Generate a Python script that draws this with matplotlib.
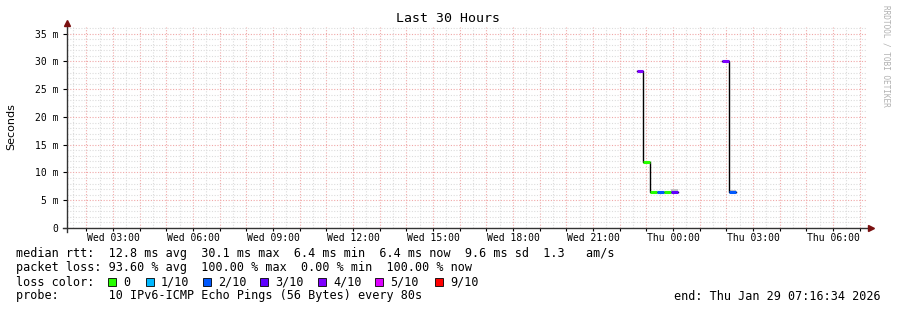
import matplotlib
matplotlib.use("Agg")
import numpy as np
import matplotlib.pyplot as plt
from matplotlib.patches import Rectangle
from matplotlib.ticker import MultipleLocator, FuncFormatter

W, H = 897, 310

# time axis in hours since Wed 00:00, window = last 30 hours
t_start = 1.276
t_end = 31.276
tick_hours = [3, 6, 9, 12, 15, 18, 21, 24, 27, 30]
tick_labels = ["Wed 03:00", "Wed 06:00", "Wed 09:00", "Wed 12:00", "Wed 15:00",
               "Wed 18:00", "Wed 21:00", "Thu 00:00", "Thu 03:00", "Thu 06:00"]

# median rtt steps (ms), grouped by contiguous data
seg_start = [22.65, 22.88, 23.14, 23.40, 23.66, 23.92, 25.84, 26.10]
seg_end = [22.88, 23.14, 23.40, 23.66, 23.92, 24.18, 26.10, 26.36]
median_ms = [28.2, 11.9, 6.4, 6.4, 6.4, 6.4, 30.0, 6.4]
loss_idx = [4, 0, 0, 2, 0, 3, 4, 2]
smoke_top = [28.3, 12.0, 6.45, 6.45, 6.45, 7.0, 30.1, 6.9]
group = [0, 0, 0, 0, 0, 0, 1, 1]

loss_labels = ["0", "1/10", "2/10", "3/10", "4/10", "5/10", "9/10"]
loss_colors = ["#26ff00", "#00b8ff", "#0059ff", "#5e00ff", "#7e00ff", "#dd00ff", "#ff0000"]
legend_box_x = [108, 146, 203, 260, 318, 375, 435]

stats_lines = [
    "median rtt:  12.8 ms avg  30.1 ms max  6.4 ms min  6.4 ms now  9.6 ms sd  1.3   am/s",
    "packet loss: 93.60 % avg  100.00 % max  0.00 % min  100.00 % now",
]
probe_line = "probe:       10 IPv6-ICMP Echo Pings (56 Bytes) every 80s"
end_line = "end: Thu Jan 29 07:16:34 2026"

MONO = "DejaVu Sans Mono"


def fx(x):
    return x / W


def fy(y):
    return 1 - y / H


fig = plt.figure(figsize=(W / 100, H / 100), dpi=100)
left, right, top, bottom = 67, 867, 27, 228
ax = fig.add_axes([fx(left), fy(bottom), (right - left) / W, (bottom - top) / H])
ax.set_xlim(t_start, t_end)
ax.set_ylim(0, 36.2)

# grid
ax.xaxis.set_major_locator(MultipleLocator(1))
ax.xaxis.set_minor_locator(MultipleLocator(0.5))
ax.yaxis.set_major_locator(MultipleLocator(5))
ax.yaxis.set_minor_locator(MultipleLocator(1))
ax.grid(which="minor", color="#dcdcdc", linestyle=(0, (1, 1.5)), linewidth=0.8)
ax.grid(which="major", color="#f0a8a8", linestyle=(0, (1, 1.5)), linewidth=0.8)
ax.set_axisbelow(True)


def xfmt(v, pos):
    for h, lab in zip(tick_hours, tick_labels):
        if abs(v - h) < 1e-6:
            return lab
    return ""


ax.xaxis.set_major_formatter(FuncFormatter(xfmt))
ax.yaxis.set_major_formatter(FuncFormatter(lambda v, p: "0" if v == 0 else f"{v:.0f} m"))
ax.tick_params(axis="x", which="major", length=2, pad=1.5, labelsize=7, colors="#000000")
ax.tick_params(axis="x", which="minor", length=0)
ax.tick_params(axis="y", which="major", length=3, pad=3, labelsize=7)
ax.tick_params(axis="y", which="minor", length=0)
for lab in ax.get_xticklabels() + ax.get_yticklabels():
    lab.set_fontfamily(MONO)

for s in ["top", "right", "left", "bottom"]:
    ax.spines[s].set_visible(False)

# smoke
for s0, s1, m, st in zip(seg_start, seg_end, median_ms, smoke_top):
    if st - m > 0.2:
        ax.add_patch(Rectangle((s0, m), s1 - s0, st - m, color="#c4c4c4", lw=0, zorder=2))

# black median step lines per group
for g in sorted(set(group)):
    idx = [i for i in range(len(group)) if group[i] == g]
    xs = [seg_start[i] for i in idx] + [seg_end[idx[-1]]]
    ys = [median_ms[i] for i in idx] + [median_ms[idx[-1]]]
    ax.step(xs, ys, where="post", color="#000000", lw=1.0, zorder=3)

# loss coloured median segments
for s0, s1, m, li in zip(seg_start, seg_end, median_ms, loss_idx):
    ax.hlines(m, s0, s1, color=loss_colors[li], lw=2.2, zorder=4)

# axis lines and arrows
fig.add_artist(plt.Line2D([fx(left), fx(left)], [fy(232), fy(24)], color="#333333", lw=1))
fig.add_artist(plt.Line2D([fx(63), fx(870)], [fy(bottom), fy(bottom)], color="#333333", lw=1))
fig.add_artist(plt.Line2D([fx(left)], [fy(22.5)], marker="^", color="#7a1010", ms=4, lw=0))
fig.add_artist(plt.Line2D([fx(871)], [fy(bottom)], marker=">", color="#7a1010", ms=4, lw=0))

# titles
fig.text(fx(448), fy(19), "Last 30 Hours", ha="center", va="center", family=MONO, fontsize=9.5)
fig.text(fx(11), fy(127), "Seconds", ha="center", va="center", rotation=90, fontsize=8)
fig.text(fx(886), fy(5), "RRDTOOL / TOBI OETIKER", ha="center", va="top", rotation=-90,
         family=MONO, fontsize=5.6, color="#b0b0b0")

# legend / stats
FS = 8.5
for i, line in enumerate(stats_lines):
    fig.text(fx(16), fy(254 + 14 * i), line, ha="left", va="center", family=MONO, fontsize=FS)
fig.text(fx(16), fy(282), "loss color:", ha="left", va="center", family=MONO, fontsize=FS)
for bx, lab, col in zip(legend_box_x, loss_labels, loss_colors):
    fig.add_artist(Rectangle((fx(bx), fy(286)), 8 / W, 8 / H, facecolor=col,
                             edgecolor="#000000", lw=0.6))
    fig.text(fx(bx + 15), fy(282), lab, ha="left", va="center", family=MONO, fontsize=FS)
fig.text(fx(16), fy(296), probe_line, ha="left", va="center", family=MONO, fontsize=FS)
fig.text(fx(881), fy(296), end_line, ha="right", va="center", family=MONO, fontsize=FS)

fig.savefig("out.png", dpi=100, facecolor="white")
